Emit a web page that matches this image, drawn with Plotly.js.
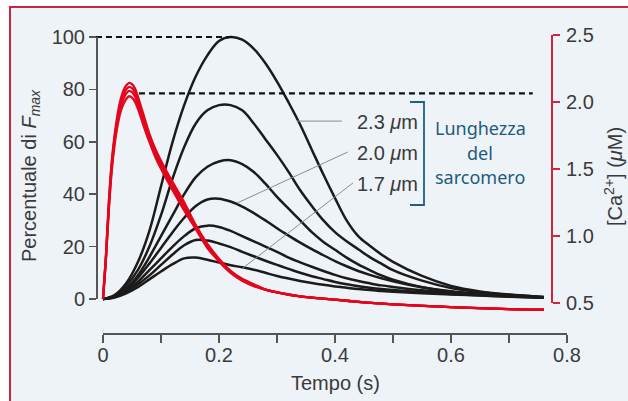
<!DOCTYPE html>
<html><head><meta charset="utf-8">
<script src="https://cdn.plot.ly/plotly-3.0.1.min.js"></script>
<style>html,body{margin:0;padding:0;background:#fff}#chart{width:628px;height:401px}</style>
</head><body><div id="chart"></div>
<script>
// ---- data ----
const tForce = [0,0.02,0.04,0.06,0.08,0.10,0.12,0.14,0.16,0.18,0.20,0.22,0.24,0.26,0.28,0.30,0.32,0.34,0.36,0.38,0.40,0.42,0.44,0.46,0.48,0.50,0.55,0.60,0.65,0.70,0.76];
const force23 = [0,1.5,6,14,26,43,60,74,85,93,98.5,100,99,95.5,90,83,75,66.5,57,47.5,38.5,30,24,20.3,17,14.2,8.8,5,2.9,1.7,0.8];
const force22 = [0,1.2,5,11,20,32,46,58,67,72,74,74,72,67,61,55,48.5,41.5,35.5,30,25.5,22,19,16,13.5,11,7,4.2,2.6,1.6,0.8];
const force21 = [0,1,4,9,16,24,32,40,46.5,50.5,52.5,53,51.5,48.5,44,39,34.5,30,25.5,21.8,18.8,15.8,13.2,11,9,7.4,4.5,2.8,1.8,1.2,0.6];
const force20 = [0,1,3.5,8,13.5,19.5,25.5,31,35.5,38,38.3,37.2,35.3,32.8,30,27,24.2,21.5,19,16.7,14.5,12.5,10.7,9.2,7.9,6.8,4.5,3,2,1.3,0.6];
const force19 = [0,0.8,3,6.5,11,15.5,20,24,27,28,27.5,26,24,22,20,18,15.8,14,12.3,10.7,9.2,7.9,6.9,6,5.2,4.6,3.3,2.3,1.6,1.1,0.6];
const force18 = [0,0.7,2.6,5.5,9,13,17,20.5,22.5,22.3,21.2,19.8,18,16.3,14.6,13,11.5,10,8.7,7.6,6.5,5.6,4.9,4.3,3.8,3.4,2.6,1.9,1.4,1,0.5];
const force17 = [0,0.6,2.2,4.5,7.5,10.5,13.3,15.5,15.8,15,13.9,12.9,12.1,11.2,10,8.8,7.8,6.9,6.1,5.4,4.8,4.3,3.8,3.4,3.1,2.8,2.2,1.7,1.3,0.9,0.5];
const forceSeries = [force23, force22, force21, force20, force19, force18, force17];

const tCa = [0,0.005,0.01,0.015,0.02,0.025,0.03,0.035,0.04,0.045,0.05,0.055,0.06,0.07,0.08,0.09,0.10,0.12,0.14,0.16,0.18,0.20,0.22,0.24,0.26,0.28,0.30,0.34,0.40,0.45,0.50,0.60,0.70,0.76];
const ca1 = [0.53,0.85,1.25,1.55,1.75,1.9,2.01,2.08,2.12,2.14,2.13,2.1,2.04,1.9,1.76,1.65,1.56,1.4,1.25,1.08,0.94,0.83,0.74,0.68,0.64,0.6,0.58,0.55,0.525,0.505,0.49,0.47,0.455,0.45];
const ca2 = [0.53,0.84,1.23,1.53,1.73,1.87,1.98,2.05,2.09,2.11,2.1,2.07,2.01,1.87,1.74,1.63,1.54,1.38,1.23,1.07,0.93,0.82,0.735,0.675,0.635,0.6,0.58,0.55,0.525,0.505,0.49,0.47,0.455,0.45];
const ca3 = [0.53,0.83,1.21,1.51,1.71,1.85,1.95,2.02,2.06,2.08,2.07,2.04,1.98,1.85,1.72,1.61,1.52,1.36,1.21,1.06,0.92,0.815,0.73,0.67,0.63,0.6,0.58,0.55,0.525,0.505,0.49,0.47,0.455,0.45];
const ca4 = [0.53,0.82,1.19,1.48,1.68,1.82,1.92,1.98,2.02,2.04,2.03,2.0,1.95,1.82,1.7,1.59,1.5,1.34,1.19,1.05,0.91,0.81,0.725,0.665,0.625,0.6,0.58,0.55,0.525,0.505,0.49,0.47,0.455,0.45];
const caSeries = [ca1, ca2, ca3, ca4];

const refMaxT = [-0.0121, 0.222], refMaxF = [100, 100];
const refCaT = [0.062, 0.741], refCaF = [78.5, 78.5];

const leaderT = [[0.334, 0.412], [0.231, 0.422], [0.241, 0.431]];
const leaderF = [[67.9, 67.9], [36.6, 56.1], [11.8, 44.3]];
const lengthLabels = ['2.3 <i>μ</i>m', '2.0 <i>μ</i>m', '1.7 <i>μ</i>m'];

const yTickVals = [0,20,40,60,80,100];
const y2TickVals = [0.5,1.0,1.5,2.0,2.5];

// ---- layout helpers (pixel -> paper) ----
const W = 628, H = 401;
const px = x => x / W, py = y => (H - y) / H;
const FONT = 'Liberation Sans, Arial, sans-serif';
const RED = '#e2071d', AXRED = '#d4253f', AXG = '#555555', TXT = '#3a3a3a';

const traces = [];
forceSeries.forEach(f => traces.push({x: tForce, y: f, xaxis: 'x', yaxis: 'y', mode: 'lines',
  line: {color: '#1b1b1b', width: 2.5, shape: 'spline', smoothing: 1}, hoverinfo: 'skip'}));
caSeries.forEach(c => traces.push({x: tCa, y: c, xaxis: 'x', yaxis: 'y2', mode: 'lines',
  line: {color: RED, width: 2.3, shape: 'spline', smoothing: 0.8}, hoverinfo: 'skip'}));
traces.push({x: refMaxT, y: refMaxF, xaxis: 'x', yaxis: 'y', mode: 'lines', line: {color: '#111', width: 2.2, dash: '6px,4px'}});
traces.push({x: refCaT, y: refCaF, xaxis: 'x', yaxis: 'y', mode: 'lines', line: {color: '#111', width: 2.2, dash: '6px,4px'}});
leaderT.forEach((lt, i) => traces.push({x: lt, y: leaderF[i], xaxis: 'x', yaxis: 'y', mode: 'lines', line: {color: '#8c8c8c', width: 1}}));
// display-axis anchors (no marks)
traces.push({x: [], y: [], xaxis: 'x2', yaxis: 'y3', mode: 'lines'});
traces.push({x: [], y: [], xaxis: 'x2', yaxis: 'y4', mode: 'lines'});

const hidden = {visible: false, showgrid: false, zeroline: false, fixedrange: true};
const tickFont = {family: FONT, size: 20, color: TXT};

const layout = {
  width: W, height: H, autosize: false,
  margin: {l: 0, r: 0, t: 0, b: 0, pad: 0},
  paper_bgcolor: '#ffffff', plot_bgcolor: 'rgba(0,0,0,0)',
  showlegend: false,
  xaxis: Object.assign({}, hidden, {domain: [px(88), px(610)], range: [(88-103)/580, (610-103)/580], anchor: 'y'}),
  yaxis: Object.assign({}, hidden, {domain: [py(318), py(22)], range: [(299-318)/2.62, (299-22)/2.62], anchor: 'x'}),
  yaxis2: Object.assign({}, hidden, {overlaying: 'y', side: 'right', range: [0.5 + (303-318)/134.25, 0.5 + (303-22)/134.25], anchor: 'x'}),
  xaxis2: {domain: [px(103), px(567)], range: [0, 0.8], anchor: 'free', position: py(333),
    tickmode: 'linear', tick0: 0, dtick: 0.2, ticks: 'outside', ticklen: 8, tickwidth: 1.5,
    minor: {tickmode: 'linear', tick0: 0, dtick: 0.1, ticks: 'outside', ticklen: 8, tickwidth: 1.5, tickcolor: AXG, showgrid: false},
    ticklabelstandoff: -5,
    tickcolor: AXG, showline: true, linecolor: AXG, linewidth: 1.5, showgrid: false, zeroline: false,
    tickfont: tickFont, fixedrange: true},
  yaxis3: {domain: [py(299), py(37)], range: [0, 100], anchor: 'free', position: px(96),
    tickmode: 'array', tickvals: yTickVals, ticks: 'outside', ticklen: 7, tickwidth: 1.5,
    tickcolor: AXG, showline: true, linecolor: AXG, linewidth: 1.5, showgrid: false, zeroline: false,
    tickfont: tickFont, fixedrange: true},
  yaxis4: {domain: [py(303), py(34.5)], range: [0.5, 2.5], anchor: 'free', position: px(552), side: 'right',
    tickmode: 'array', tickvals: y2TickVals, tickformat: '.1f', ticks: 'outside', ticklen: 7, tickwidth: 2,
    ticklabelstandoff: 2,
    tickcolor: AXRED, showline: true, linecolor: AXRED, linewidth: 2, showgrid: false, zeroline: false,
    tickfont: tickFont, fixedrange: true},
  shapes: [
    {type: 'rect', xref: 'paper', yref: 'paper', x0: px(10), x1: 1.05, y0: -0.05, y1: py(7),
      line: {color: '#cc2440', width: 2}, fillcolor: '#eef3f8', layer: 'below'},
    {type: 'path', xref: 'paper', yref: 'paper', layer: 'above',
      path: `M ${px(410)} ${py(102)} L ${px(424)} ${py(102)} L ${px(424)} ${py(205)} L ${px(410)} ${py(205)}`,
      line: {color: '#1f5f80', width: 1.8}}
  ],
  annotations: [
    {text: 'Tempo (s)', xref: 'paper', yref: 'paper', x: px(335), y: py(383), xanchor: 'center', yanchor: 'middle',
      showarrow: false, font: {family: FONT, size: 20, color: TXT}},
    {text: 'Percentuale di <i>F</i><sub><i>max</i></sub>', xref: 'paper', yref: 'paper', x: px(30), y: py(176),
      xanchor: 'center', yanchor: 'middle', textangle: -90, showarrow: false, font: {family: FONT, size: 20, color: TXT}},
    {text: '[Ca<sup>2+</sup>] (<i>μ</i>M)', xref: 'paper', yref: 'paper', x: px(613), y: py(177),
      xanchor: 'center', yanchor: 'middle', textangle: -90, showarrow: false, font: {family: FONT, size: 20, color: TXT}},
    {text: 'Lunghezza', xref: 'paper', yref: 'paper', x: px(480), y: py(128), xanchor: 'center', yanchor: 'middle',
      showarrow: false, font: {family: 'Noto Sans, sans-serif', size: 18, color: '#1d5b7c'}},
    {text: 'del', xref: 'paper', yref: 'paper', x: px(480), y: py(153), xanchor: 'center', yanchor: 'middle',
      showarrow: false, font: {family: 'Noto Sans, sans-serif', size: 18, color: '#1d5b7c'}},
    {text: 'sarcomero', xref: 'paper', yref: 'paper', x: px(480), y: py(177), xanchor: 'center', yanchor: 'middle',
      showarrow: false, font: {family: 'Noto Sans, sans-serif', size: 18, color: '#1d5b7c'}}
  ].concat(lengthLabels.map((t, i) => ({text: t, xref: 'paper', yref: 'paper', x: px(355), y: py([122, 153, 184][i]),
      xanchor: 'left', yanchor: 'middle', showarrow: false, font: {family: FONT, size: 20, color: TXT}})))
};

Plotly.newPlot('chart', traces, layout, {staticPlot: true, displayModeBar: false});
</script>
</body></html>
